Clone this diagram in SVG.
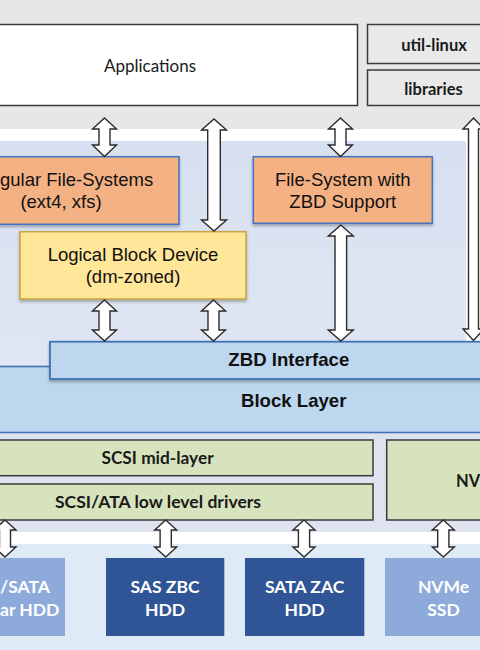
<svg xmlns="http://www.w3.org/2000/svg" width="480" height="650" viewBox="0 0 480 650">
<defs>
<filter id="sh" x="-10%" y="-10%" width="120%" height="130%">
<feDropShadow dx="0" dy="2" stdDeviation="1.5" flood-color="#000" flood-opacity="0.3"/>
</filter>
<linearGradient id="kg" x1="0" y1="0" x2="0" y2="1">
<stop offset="0" stop-color="#d7e0f1"/>
<stop offset="1" stop-color="#e0e6f2"/>
</linearGradient>
</defs>
<style>
.arial{font-family:"Liberation Sans",Arial,sans-serif;fill:#111}
.cal{font-family:Lato,"Open Sans",sans-serif;fill:#1a1a1a}
.b{font-weight:bold}
.w{fill:#ffffff}
.arr{fill:#ffffff;stroke:#2b2b2b;stroke-width:1.4;stroke-linejoin:miter}
.gbox{fill:#d7e3bd;stroke:#3a3a3a;stroke-width:1.5}
.obox{fill:#f4b183;stroke:#4472c4;stroke-width:1.5}
</style>
<!-- backgrounds -->
<rect x="0" y="0" width="480" height="129" fill="#e7e7e6"/>
<rect x="0" y="129" width="480" height="12" fill="#ffffff"/>
<rect x="0" y="141" width="466" height="226" fill="url(#kg)"/>
<rect x="0" y="433" width="480" height="99" fill="#dee3ef"/>
<rect x="0" y="532" width="480" height="12" fill="#ffffff"/>
<rect x="0" y="544" width="480" height="106" fill="#deebf6"/>

<g id="block-layer">
<rect x="-5" y="366.5" width="490" height="66" fill="#bdd7ee" stroke="#3f72b5" stroke-width="1.6"/>
<text class="arial b" x="293.7" y="407.3" font-size="18.6" text-anchor="middle">Block Layer</text>
</g>
<g id="applications">
<rect x="-5" y="24.5" width="362.5" height="81" fill="#ffffff" stroke="#3a3a3a" stroke-width="1.5"/>
<text class="cal" x="150" y="71.7" font-size="17" text-anchor="middle">Applications</text>
</g>
<g id="util-linux">
<rect x="367.5" y="24.5" width="120" height="39" fill="#e9e9e9" stroke="#3a3a3a" stroke-width="1.5"/>
<text class="cal b" x="434" y="50.7" font-size="16.5" text-anchor="middle">util-linux</text>
</g>
<g id="libraries">
<rect x="367.5" y="70" width="120" height="35.5" fill="#e9e9e9" stroke="#3a3a3a" stroke-width="1.5"/>
<text class="cal b" x="433.5" y="95" font-size="16.5" text-anchor="middle">libraries</text>
</g>
<g id="regular-fs">
<rect class="obox" x="-57" y="156.7" width="236" height="67.6" filter="url(#sh)"/>
<text class="arial" x="0" y="186" font-size="18.5">gular File-Systems</text>
<text class="arial" x="61" y="207.5" font-size="18.5" text-anchor="middle">(ext4, xfs)</text>
</g>
<g id="zbd-fs">
<rect class="obox" x="253.3" y="156.7" width="179" height="66.6" filter="url(#sh)"/>
<text class="arial" x="342.8" y="186" font-size="18.5" text-anchor="middle">File-System with</text>
<text class="arial" x="342.8" y="208.3" font-size="18.5" text-anchor="middle">ZBD Support</text>
</g>
<g id="logical-block-device">
<rect x="20" y="231.7" width="226" height="67.3" fill="#ffe699" stroke="#c9a43a" stroke-width="1.5" filter="url(#sh)"/>
<text class="arial" x="133" y="260.7" font-size="18.5" text-anchor="middle">Logical Block Device</text>
<text class="arial" x="133" y="283" font-size="18.5" text-anchor="middle">(dm-zoned)</text>
</g>
<g id="zbd-interface">
<rect x="50" y="341.7" width="440" height="37.3" fill="#bfd7ee" stroke="#3f72b5" stroke-width="1.8" filter="url(#sh)"/>
<text class="arial b" x="288.8" y="365.7" font-size="18.6" text-anchor="middle">ZBD Interface</text>
</g>
<g id="scsi-mid-layer">
<rect class="gbox" x="-57" y="440" width="430" height="35.7"/>
<text class="cal b" x="157.5" y="464.3" font-size="17.3" text-anchor="middle">SCSI mid-layer</text>
</g>
<g id="scsi-ata-drivers">
<rect class="gbox" x="-57" y="484" width="430" height="36"/>
<text class="cal b" x="158" y="508.3" font-size="17.6" text-anchor="middle">SCSI/ATA low level drivers</text>
</g>
<g id="nvme-driver">
<rect class="gbox" x="386.7" y="440" width="110" height="80"/>
<text class="cal b" x="456" y="486.7" font-size="16.5">NV</text>
</g>
<g id="sata-hdd">
<rect x="-60" y="558" width="125" height="78" fill="#8eaadb"/>
<text class="cal b w" x="0" y="593.3" font-size="17.5">/SATA</text>
<text class="cal b w" x="0" y="616" font-size="17.5">ar HDD</text>
</g>
<g id="sas-zbc-hdd">
<rect x="106" y="558" width="118.3" height="78" fill="#2f5597"/>
<text class="cal b w" x="165" y="593.3" font-size="17.5" text-anchor="middle">SAS ZBC</text>
<text class="cal b w" x="165" y="616" font-size="17.5" text-anchor="middle">HDD</text>
</g>
<g id="sata-zac-hdd">
<rect x="245" y="558" width="119.3" height="78" fill="#2f5597"/>
<text class="cal b w" x="304.6" y="593.3" font-size="17.5" text-anchor="middle">SATA ZAC</text>
<text class="cal b w" x="304.6" y="616" font-size="17.5" text-anchor="middle">HDD</text>
</g>
<g id="nvme-ssd">
<rect x="385" y="558" width="118" height="78" fill="#8eaadb"/>
<text class="cal b w" x="443.5" y="593.3" font-size="17.5" text-anchor="middle">NVMe</text>
<text class="cal b w" x="443.5" y="616" font-size="17.5" text-anchor="middle">SSD</text>
</g>

<g id="connectors">
<path class="arr" d="M104.5,118 L116.5,129 L110,129 L110,145 L116.5,145 L104.5,156.5 L92.5,145 L99,145 L99,129 L92.5,129 Z"/>
<path class="arr" d="M214,119 L226.5,130 L220.3,130 L220.3,220 L226.5,220 L214,231 L201.5,220 L207.7,220 L207.7,130 L201.5,130 Z"/>
<path class="arr" d="M340.5,118 L352.5,129 L346,129 L346,145 L352.5,145 L340.5,156.5 L328.5,145 L335,145 L335,129 L328.5,129 Z"/>
<path class="arr" d="M473.5,118 L484,129 L478.5,129 L478.5,329 L484,329 L473.5,340.5 L463,329 L468.5,329 L468.5,129 L463,129 Z"/>
<path class="arr" d="M104.5,300 L116.5,311 L110,311 L110,330 L116.5,330 L104.5,341 L92.5,330 L99,330 L99,311 L92.5,311 Z"/>
<path class="arr" d="M213.5,300 L225.5,311 L219,311 L219,330 L225.5,330 L213.5,341 L201.5,330 L208,330 L208,311 L201.5,311 Z"/>
<path class="arr" d="M340.8,225 L353.3,236 L346.6,236 L346.6,330 L353.3,330 L340.8,341 L328.3,330 L335,330 L335,236 L328.3,236 Z"/>
<path class="arr" d="M5,520 L16,530 L10.5,530 L10.5,547 L16,547 L5,557 L-6,547 L-0.5,547 L-0.5,530 L-6,530 Z"/>
<path class="arr" d="M165.7,520 L176.7,530 L171.3,530 L171.3,547 L176.7,547 L165.7,557 L154.7,547 L160.1,547 L160.1,530 L154.7,530 Z"/>
<path class="arr" d="M304,520 L315,530 L309.6,530 L309.6,547 L315,547 L304,557 L293,547 L298.4,547 L298.4,530 L293,530 Z"/>
<path class="arr" d="M443.3,520 L454.3,530 L448.9,530 L448.9,547 L454.3,547 L443.3,557 L432.3,547 L437.7,547 L437.7,530 L432.3,530 Z"/>
</g>
</svg>
